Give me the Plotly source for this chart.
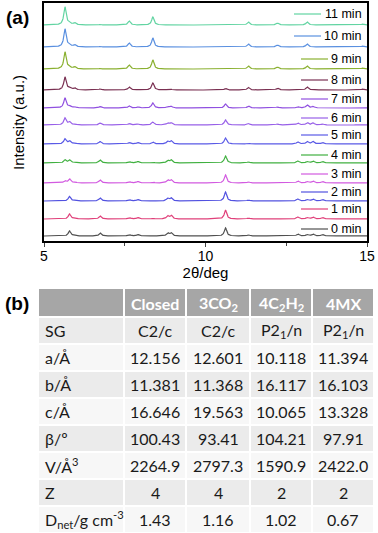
import numpy as np
import plotly.graph_objects as go

# ---- (a) PXRD data ----
labels = ["0 min", "1 min", "2 min", "3 min", "4 min", "5 min",
          "6 min", "7 min", "8 min", "9 min", "10 min", "11 min"]
colors = ["#505050", "#e0407a", "#5252e0", "#d25ae0", "#40b040", "#5a5ae6",
          "#9860e8", "#9050e0", "#7a3052", "#8ab030", "#5a90e0", "#62d4a2"]
# vertical offset of each pattern (a.u.)
offsets = [5, 22, 40, 58, 78, 97, 116, 133, 151, 172, 194, 216]

peak_pos = [5.65, 5.79, 5.95, 6.74, 7.64, 7.91, 8.37, 8.83, 8.94, 10.62,
            11.33, 12.23, 12.86, 13.15, 13.33, 13.62, 14.87]
peak_int = [
    [0, 5, 1, 3, 1.5, 1.5, 0.5, 3, 3, 8, 1, 0.5, 2, 1.5, 2, 1.5, 0.5],
    [0, 5, 1, 3, 1.5, 1.5, 0.5, 3, 3.5, 9, 1, 0.5, 2, 1.5, 2, 1.5, 0.5],
    [0, 4.5, 1, 3, 1.5, 1.5, 0.5, 2.5, 3, 9, 1, 0.5, 2, 1.5, 2, 1.5, 0.5],
    [2, 4, 1, 3, 1.5, 1.5, 1, 3, 3, 8, 1, 0.5, 2, 1.5, 2, 1.5, 0.5],
    [3, 3, 1, 3, 1.5, 1.5, 1, 2.5, 3, 7, 1, 0.5, 2, 1.5, 2, 1.5, 0.5],
    [5, 3, 1, 2.5, 1.5, 1.5, 2, 2.5, 3, 6, 1, 0.5, 2, 2.5, 2.5, 1.5, 0.5],
    [7, 3, 1, 2, 1.5, 1, 3, 2, 2, 5, 1.5, 1, 2, 2.5, 2, 1, 0.5],
    [10, 2, 1, 1.5, 2, 1, 5, 1.5, 1.5, 4, 2, 1, 1.5, 3, 1.5, 0.5, 0.5],
    [13, 2, 2, 1, 3, 0.5, 7, 0.5, 0.5, 1.5, 2.5, 2, 0.5, 3, 0.5, 0, 1],
    [17, 2, 2, 0.5, 4, 0, 9, 0, 0, 0, 3, 2, 0, 3, 0, 0, 1],
    [18, 2, 2, 0.5, 4, 0, 9, 0, 0, 0, 3, 2, 0, 3, 0, 0, 1],
    [18, 2, 2, 0.5, 4, 0, 8, 0, 0, 0, 3, 2, 0, 3, 0, 0, 1],
]

# ---- (b) table ----
header = ["", "<b>Closed</b>", "<b>3CO<sub>2</sub></b>",
          "<b>4C<sub>2</sub>H<sub>2</sub></b>", "<b>4MX</b>"]
params = ["SG", "a/Å", "b/Å", "c/Å", "β/º", "V/Å<sup>3</sup>", "Z",
          "D<sub>net</sub>/g cm<sup>-3</sup>"]
closed = ["C2/c", "12.156", "11.381", "16.646", "100.43", "2264.9", "4", "1.43"]
co2 = ["C2/c", "12.601", "11.368", "19.563", "93.41", "2797.3", "4", "1.16"]
c2h2 = ["P2<sub>1</sub>/n", "10.118", "16.117", "10.065", "104.21", "1590.9", "2", "1.02"]
mx = ["P2<sub>1</sub>/n", "11.394", "16.103", "13.328", "97.91", "2422.0", "2", "0.67"]

W, H = 378, 533
PX0, PX1, PY0, PY1 = 44, 367, 3, 241   # plot box in pixels


def px(x):
    return float(x) / W


def py(y):
    return 1 - float(y) / H


def note(text, x, y, xanchor="center", size=14, color="black", family="Arial", angle=0):
    fig.add_annotation(text=text, showarrow=False, xref="paper", yref="paper",
                       x=px(x), y=py(y), xanchor=xanchor, yanchor="middle",
                       textangle=angle, borderpad=0,
                       font=dict(family=family, size=size, color=color))


fig = go.Figure()

# peak profiles built from the read peak list
x = np.linspace(5, 15, 1001)
gam = 0.045
for i, lab in enumerate(labels):
    y = np.full_like(x, offsets[i], dtype=float)
    for p, h in zip(peak_pos, peak_int[i]):
        y += h / (1 + ((x - p) / gam) ** 2)
    fig.add_trace(go.Scatter(x=x, y=y, mode="lines", name=lab, showlegend=False,
                             line=dict(color=colors[i], width=1.2)))

fig.update_layout(
    width=W, height=H,
    margin=dict(l=0, r=0, t=0, b=0, autoexpand=False),
    paper_bgcolor="white", plot_bgcolor="white",
    font=dict(family="Arial", color="black"),
    showlegend=False,
)

fig.update_xaxes(domain=[px(PX0), px(PX1)], range=[5, 15],
                 tickvals=[5, 10, 15], ticks="outside", ticklen=4,
                 tickfont=dict(size=14), ticklabelstandoff=-3,
                 minor=dict(tickvals=[7.5, 12.5], ticks="outside", ticklen=3),
                 showline=True, mirror=True, linecolor="black", linewidth=1.5,
                 showgrid=False, zeroline=False,
                 title=dict(text="2θ/deg", font=dict(size=15), standoff=5))
fig.update_yaxes(domain=[py(PY1), py(PY0)], range=[0, PY1 - PY0],
                 showticklabels=False, ticks="",
                 showline=True, mirror=True, linecolor="black", linewidth=1.5,
                 showgrid=False, zeroline=False)

# legend drawn by hand (right aligned like the original)
legend_y = [229, 209, 192, 174, 155, 135, 118, 99, 80, 59, 36, 14]
for i, lab in enumerate(labels):
    tw = 7.0 * len(lab) - 4       # rough text width at 12.5px Arial
    x_end = 363 - tw - 4
    fig.add_shape(type="line", xref="paper", yref="paper",
                  x0=px(x_end - 27), x1=px(x_end), y0=py(legend_y[i]), y1=py(legend_y[i]),
                  line=dict(color=colors[i], width=1.2))
    note(lab, 363, legend_y[i], xanchor="right", size=12.5)

note("Intensity (a.u.)", 18, 123, size=15, angle=-90)
note("<b>(a)</b>", 17, 17, size=19)
note("<b>(b)</b>", 17, 303, size=19)

# table drawn with rectangles and text
col_w = [86, 62, 64, 62, 62]
col_x = np.concatenate([[38], 38 + np.cumsum(col_w)])
head_top, head_h, row_h = 289, 28, 27
columns = [params, closed, co2, c2h2, mx]
row_fill = ["#ebebeb", "#f7f7f7"]
tfont = "Lato"
tsize = 16

for c in range(len(col_w)):
    fig.add_shape(type="rect", xref="paper", yref="paper", layer="below",
                  x0=px(col_x[c] + 1), x1=px(col_x[c + 1] - 1),
                  y0=py(head_top), y1=py(head_top + head_h - 1),
                  fillcolor="#a6a6a6", line=dict(width=0))
    if header[c]:
        note(header[c], (col_x[c] + col_x[c + 1]) / 2, head_top + head_h / 2,
             family=tfont, size=tsize, color="white")
    for r, val in enumerate(columns[c]):
        top = head_top + head_h + r * row_h
        fig.add_shape(type="rect", xref="paper", yref="paper", layer="below",
                      x0=px(col_x[c] + 1), x1=px(col_x[c + 1] - 1),
                      y0=py(top + 1), y1=py(top + row_h - 1),
                      fillcolor=row_fill[r % 2], line=dict(width=0))
        if c == 0:
            note(val, col_x[0] + 6, top + row_h / 2, xanchor="left",
                 family=tfont, size=tsize, color="#1a1a1a")
        else:
            note(val, (col_x[c] + col_x[c + 1]) / 2, top + row_h / 2,
                 family=tfont, size=tsize, color="#1a1a1a")

# drop the browser's default body margin so the figure sits at (0, 0)
fig.write_html("out.html", config={"displayModeBar": False},
               post_script="document.body.style.margin='0';document.body.style.overflow='hidden';")
